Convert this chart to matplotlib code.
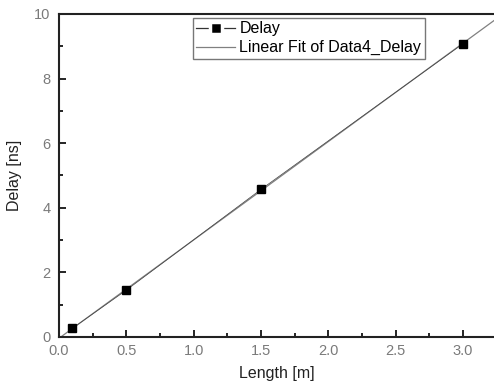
import numpy as np
import matplotlib
matplotlib.use("Agg")
import matplotlib.pyplot as plt
from matplotlib.lines import Line2D
from matplotlib.ticker import MultipleLocator

length_m = [0.1, 0.5, 1.5, 3.0]
delay_ns = [0.27, 1.45, 4.57, 9.08]

x_ticks = [0.0, 0.5, 1.0, 1.5, 2.0, 2.5, 3.0]
y_ticks = [0, 2, 4, 6, 8, 10]

plt.rcParams["font.family"] = ["Liberation Sans", "DejaVu Sans"]

fig = plt.figure(figsize=(4.94, 3.85), dpi=100)
ax = fig.add_axes([0.1194, 0.1247, 0.8806, 0.839])

# Linear fit of the data, drawn across the whole x range like Origin does
slope, intercept = np.polyfit(length_m, delay_ns, 1)
xlim = (0, 3.23)
fit_x = np.array(xlim)
ax.plot(fit_x, slope * fit_x + intercept, color="#808080", lw=0.9, zorder=2)
ax.plot(length_m, delay_ns, color="#444444", lw=0.5, marker="s",
        markersize=5.5, markerfacecolor="black", markeredgecolor="black",
        zorder=3)

ax.set_xlim(*xlim)
ax.set_ylim(0, 10)
ax.set_xticks(x_ticks)
ax.set_yticks(y_ticks)
ax.set_xticklabels([f"{v:.1f}" for v in x_ticks])
ax.xaxis.set_minor_locator(MultipleLocator(0.25))
ax.yaxis.set_minor_locator(MultipleLocator(1))
ax.tick_params(which="both", direction="in", top=False, right=False,
               labelsize=10.5, labelcolor="#7a7a7a", width=1.2)
ax.tick_params(axis="x", pad=5)
ax.tick_params(axis="y", pad=6)
ax.tick_params(which="major", length=5)
ax.tick_params(which="minor", length=3)
for side in ["left", "bottom", "top"]:
    ax.spines[side].set_linewidth(1.5)
    ax.spines[side].set_color("#222222")
ax.spines["right"].set_visible(False)

ax.set_xlabel("Length [m]", fontsize=11.5, color="#222222", labelpad=6)
ax.set_ylabel("Delay [ns]", fontsize=11.5, color="#222222", labelpad=9)

# legend handles in Origin style: line - square - line
h_delay = Line2D([], [], color="#333333", lw=0.9, marker="s", markersize=9,
                 markerfacecolor="black", markeredgecolor="white",
                 markeredgewidth=2.5)
h_fit = Line2D([], [], color="#808080", lw=0.9)
leg = fig.legend([h_delay, h_fit], ["Delay", "Linear Fit of Data4_Delay"],
                 loc="upper left", bbox_to_anchor=(0.391, 0.953),
                 fontsize=11.5, frameon=True, fancybox=False,
                 edgecolor="#555555", borderpad=0.2, handlelength=2.4,
                 handletextpad=0.3, labelspacing=0.25, borderaxespad=0)
leg.get_frame().set_linewidth(1.0)

fig.savefig("out.png", dpi=100)
